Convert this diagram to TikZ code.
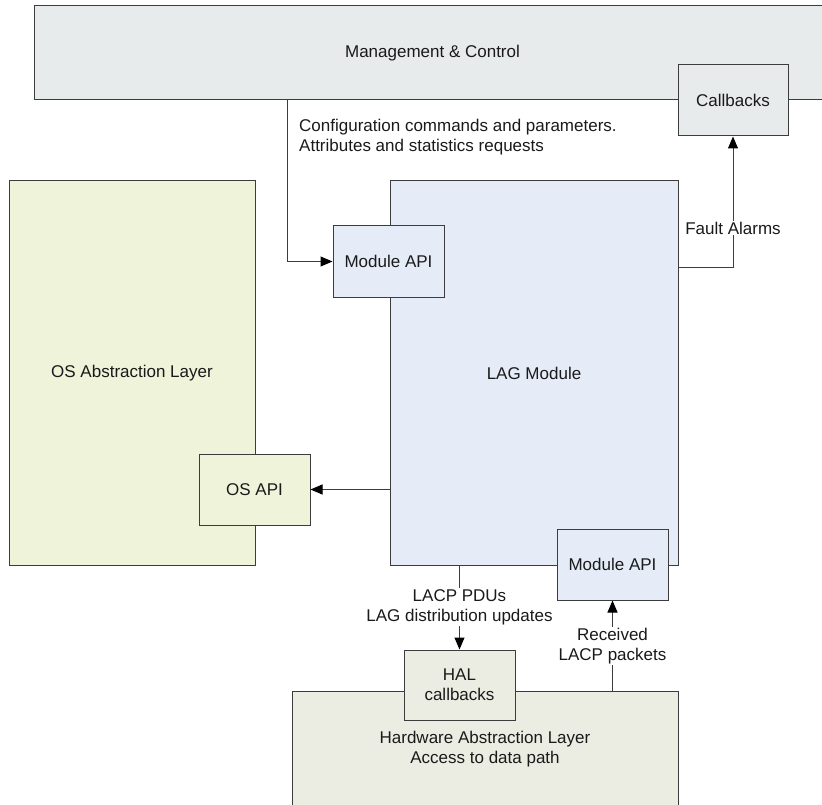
\documentclass[tikz,border=0pt]{standalone}
\usepackage{fontspec}
\setmainfont{Liberation Sans}
\usetikzlibrary{arrows.meta}
\definecolor{mgmtgray}{HTML}{E8EBEC}
\definecolor{osgreen}{HTML}{EEF3DA}
\definecolor{lagblue}{HTML}{E5ECF7}
\definecolor{halbeige}{HTML}{ECEDE2}
\definecolor{linegray}{HTML}{3C3C3C}
\definecolor{txt}{HTML}{1A1A1A}
\tikzset{
  blk/.style={draw=linegray, line width=1pt, text=txt, inner sep=0pt, align=center},
  wire/.style={draw=linegray, line width=1pt},
  flow/.style={wire, -{Triangle[length=12pt,width=10pt,color=black]}},
  lbl/.style={fill=white, text=txt, align=center, inner sep=1pt}
}
\begin{document}
\begin{tikzpicture}[x=1pt,y=-1pt,font=\fontsize{17}{20}\selectfont]
\useasboundingbox (0,0) rectangle (822,805);
\clip (0,0) rectangle (822,805);

\node[blk, fill=mgmtgray, minimum width=797pt, minimum height=94pt] (mgmt) at (432.5,53) {Management \& Control};
\node[blk, fill=mgmtgray, minimum width=110pt, minimum height=71pt] (cb) at (733,100.5) {Callbacks};

\node[blk, fill=osgreen, minimum width=246pt, minimum height=384pt] (os) at (132,373) {OS Abstraction Layer};
\node[blk, fill=osgreen, minimum width=111pt, minimum height=71pt] (osapi) at (254.5,489.5) {OS API};

\node[blk, fill=lagblue, minimum width=288pt, minimum height=384pt] (lag) at (534,373) {LAG Module};
\node[blk, fill=lagblue, minimum width=111pt, minimum height=71pt] (modapi) at (388.5,261.5) {Module API};
\node[blk, fill=lagblue, minimum width=111pt, minimum height=71pt] (rxapi) at (612.5,564.5) {Module API};

\node[blk, fill=halbeige, minimum width=386pt, minimum height=116pt] (hal) at (485,749) {Hardware Abstraction Layer\\Access to data path};
\node[blk, fill=halbeige, minimum width=111pt, minimum height=70pt] (halcb) at (459.5,685) {HAL\\callbacks};

\coordinate (cfg) at (287,100);
\draw[flow] (cfg) |- (modapi.west);
\node[text=txt, align=left, anchor=west, inner sep=1pt] (cfgtxt) at (298,137) {Configuration commands and parameters.\\Attributes and statistics requests};

\draw[flow] ([yshift=106pt]lag.east) -| (cb.south);
\node[lbl] (fault) at (733,228) {Fault Alarms};

\draw[flow] (lag.west |- osapi.east) -- (osapi.east);

\draw[flow] (lag.south -| halcb.north) -- (halcb.north);
\node[lbl] (pdus) at (459.5,607) {LACP PDUs\\LAG distribution updates};

\draw[flow] (hal.north -| rxapi.south) -- (rxapi.south);
\node[lbl] (rxtxt) at (612.5,646) {Received\\LACP packets};

\end{tikzpicture}
\end{document}
